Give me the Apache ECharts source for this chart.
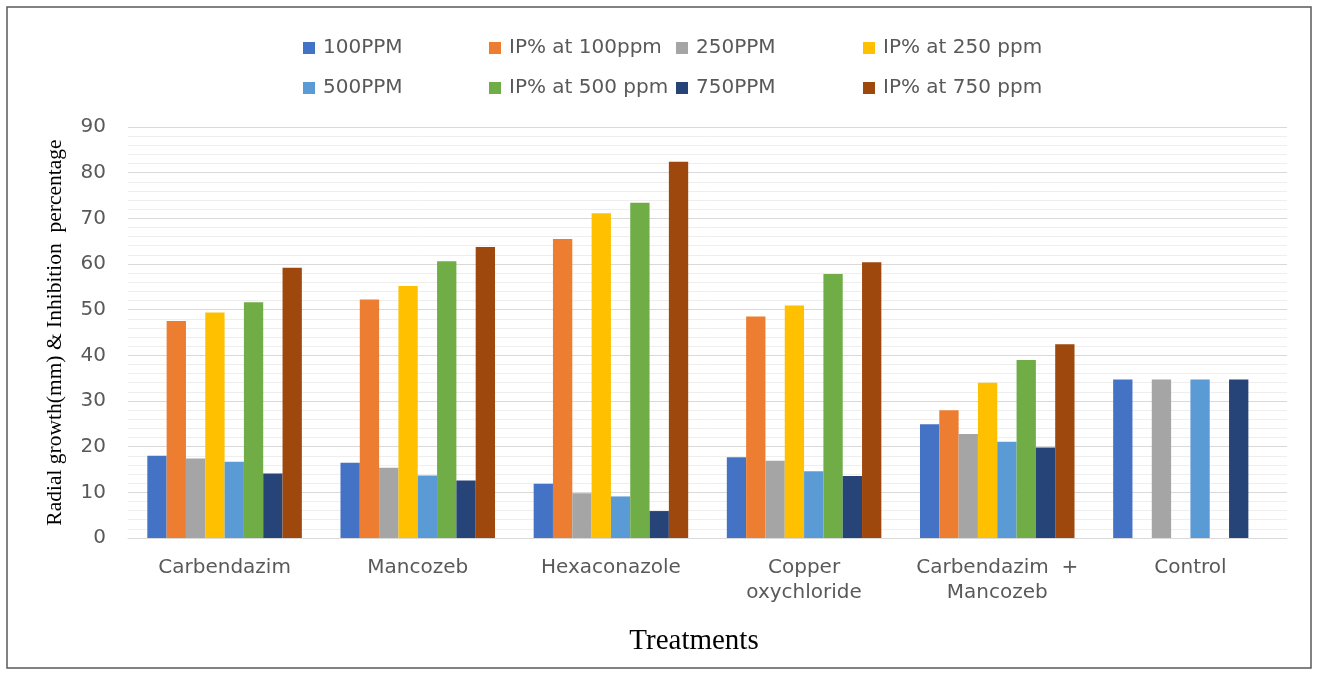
<!DOCTYPE html>
<html><head><meta charset="utf-8">
<script src="https://cdn.jsdelivr.net/npm/echarts@6/dist/echarts.min.js"></script>
<style>html,body{margin:0;padding:0;background:#fff}#c{width:1319px;height:673px}</style>
</head><body><div id="c"></div>
<script>
var categories = ['Carbendazim','Mancozeb','Hexaconazole','Copper\noxychloride','Carbendazim  +\nMancozeb','Control'];
var seriesNames = ['100PPM','IP% at 100ppm','250PPM','IP% at 250 ppm','500PPM','IP% at 500 ppm','750PPM','IP% at 750 ppm'];
var ppm100 = [18.0,16.5,11.9,17.7,24.9,34.7];
var ip100  = [47.5,52.2,65.5,48.5,28.0,null];
var ppm250 = [17.4,15.4,9.8,16.9,22.8,34.7];
var ip250  = [49.4,55.2,71.1,50.9,34.0,null];
var ppm500 = [16.7,13.7,9.1,14.6,21.1,34.7];
var ip500  = [51.6,60.6,73.4,57.8,39.0,null];
var ppm750 = [14.1,12.6,5.9,13.6,19.8,34.7];
var ip750  = [59.2,63.7,82.4,60.4,42.4,null];
var yTicks = [0,10,20,30,40,50,60,70,80,90];

var values = [ppm100, ip100, ppm250, ip250, ppm500, ip500, ppm750, ip750];
var colors = ['#4472C4','#ED7D31','#A5A5A5','#FFC000','#5B9BD5','#70AD47','#264478','#9E480E'];
var legendPos = [[298,33],[484,33],[671,33],[858,33],[298,73],[484,73],[671,73],[858,73]];

var chart = echarts.init(document.getElementById('c'));
var legends = seriesNames.map(function(n,i){
  return {left:legendPos[i][0], top:legendPos[i][1], data:[n], icon:'rect', itemWidth:12, itemHeight:12, itemGap:0,
    textStyle:{fontFamily:'DejaVu Sans', fontSize:20, lineHeight:20, color:'#595959', padding:[0,0,0,3]}, selectedMode:false};
});
chart.setOption({
  animation:false,
  color: colors,
  legend: legends,
  graphic:[{type:'rect', shape:{x:7,y:7,width:1304,height:661}, style:{fill:'none', stroke:'#595959', lineWidth:1.5}, silent:true}],
  grid:{left:128, right:32, top:127, bottom:135},
  xAxis:{type:'category', data:categories,
    axisLine:{lineStyle:{color:'#d9d9d9', width:1}}, axisTick:{show:false},
    axisLabel:{fontFamily:'DejaVu Sans', fontSize:20, color:'#595959', margin:17, lineHeight:25, interval:0},
    name:'Treatments', nameLocation:'middle', nameGap:89,
    nameTextStyle:{fontFamily:'Liberation Serif', fontSize:29, color:'#000', padding:[0,27,0,0]}},
  yAxis:{type:'value', min:yTicks[0], max:yTicks[yTicks.length-1], interval:10,
    axisLine:{show:false}, axisTick:{show:false},
    axisLabel:{fontFamily:'DejaVu Sans', fontSize:20, color:'#595959', margin:22},
    splitLine:{lineStyle:{color:'#d9d9d9', width:1.2}},
    minorTick:{show:false, splitNumber:5},
    minorSplitLine:{show:true, lineStyle:{color:'#eeeeee', width:1}},
    name:'Radial growth(mm) & Inhibition  percentage', nameLocation:'middle', nameGap:62,
    nameTextStyle:{fontFamily:'Liberation Serif', fontSize:21.5, color:'#000'}},
  series: seriesNames.map(function(n,i){
    return {name:n, type:'bar', data:values[i], barGap:'0%', barCategoryGap:'20%'};
  })
});
</script></body></html>
